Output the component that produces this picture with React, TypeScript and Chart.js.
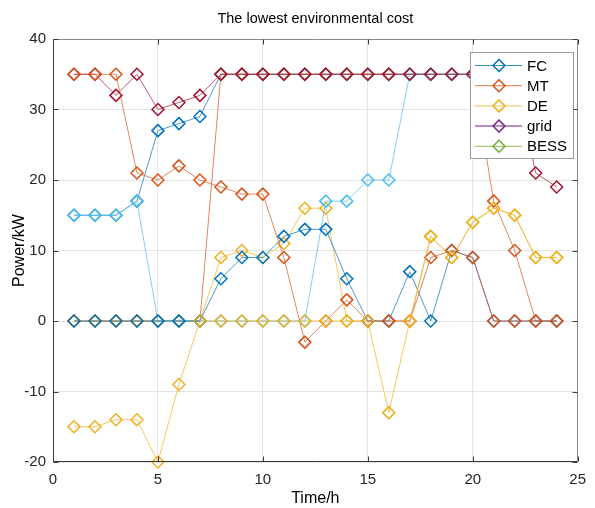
import React, { useEffect, useRef } from 'react';
import { Chart, registerables } from 'chart.js';

Chart.register(...registerables);

// ---- data ----
const hours = [1, 2, 3, 4, 5, 6, 7, 8, 9, 10, 11, 12, 13, 14, 15, 16, 17, 18, 19, 20, 21, 22, 23, 24];

const FC = [15, 15, 15, 17, 27, 28, 29, 35, 35, 35, 35, 35, 35, 35, 35, 35, 35, 35, 35, 35, 35, 35, 35, 35];
const MT = [0, 0, 0, 0, 0, 0, 0, 35, 35, 35, 35, 35, 35, 35, 35, 35, 35, 35, 35, 35, 17, 10, 0, 0];
const DE = [0, 0, 0, 0, 0, 0, 0, 9, 10, 9, 11, 16, 16, 0, 0, 0, 0, 12, 9, 14, 16, 15, 9, 9];
const grid: number[] = [];
const BESS: number[] = [];
const FC2 = [15, 15, 15, 17, 0, 0, 0, 0, 0, 0, 0, 0, 17, 17, 20, 20, 35, 35, 35, 35, 35, 35, 35, 35];
const MT2 = [35, 35, 32, 35, 30, 31, 32, 35, 35, 35, 35, 35, 35, 35, 35, 35, 35, 35, 35, 35, 35, 35, 21, 19];
const DE2 = [0, 0, 0, 0, 0, 0, 0, 6, 9, 9, 12, 13, 13, 6, 0, 0, 7, 0, 10, 9, 0, 0, 0, 0];
const grid2 = [35, 35, 35, 21, 20, 22, 20, 19, 18, 18, 9, -3, 0, 3, 0, 0, 0, 9, 10, 9, 0, 0, 0, 0];
const BESS2 = [-15, -15, -14, -14, -20, -9, 0, 0, 0, 0, 0, 0, 0, 0, 0, -13, 0, 12, 9, 14, 16, 15, 9, 9];

const seriesNames = ['FC', 'MT', 'DE', 'grid', 'BESS', 'FC2', 'MT2', 'DE2', 'grid2', 'BESS2'];
const seriesValues = [FC, MT, DE, grid, BESS, FC2, MT2, DE2, grid2, BESS2];
const seriesColors = ['#0072BD', '#D95319', '#EDB120', '#7E2F8E', '#77AC30', '#4DBEEE', '#A2142F', '#0072BD', '#D95319', '#EDB120'];
const legendCount = 5;

const xTicks = [0, 5, 10, 15, 20, 25];
const yTicks = [-20, -10, 0, 10, 20, 30, 40];

const titleText = 'The lowest environmental cost';
const xTitle = 'Time/h';
const yTitle = 'Power/kW';

function hexA(hex: string, a: number) {
  const r = parseInt(hex.slice(1, 3), 16);
  const g = parseInt(hex.slice(3, 5), 16);
  const b = parseInt(hex.slice(5, 7), 16);
  return `rgba(${r},${g},${b},${a})`;
}

function drawDiamond(ctx: CanvasRenderingContext2D, x: number, y: number, r: number) {
  ctx.beginPath();
  ctx.moveTo(x, y - r);
  ctx.lineTo(x + r, y);
  ctx.lineTo(x, y + r);
  ctx.lineTo(x - r, y);
  ctx.closePath();
  ctx.stroke();
}

const decorPlugin = {
  id: 'decor',
  afterDraw(chart: any) {
    const { ctx, chartArea: a, scales } = chart;
    const xs = scales.x;
    const ys = scales.y;
    ctx.save();

    // box
    ctx.lineWidth = 1;
    ctx.strokeStyle = '#3a3a3a';
    const L = Math.round(a.left) + 0.5;
    const R = Math.round(a.right) - 0.5;
    const T = Math.round(a.top) + 0.5;
    const B = Math.round(a.bottom) - 0.5;
    ctx.beginPath();
    ctx.moveTo(L, T);
    ctx.lineTo(L, B);
    ctx.lineTo(R, B);
    ctx.stroke();
    ctx.strokeStyle = '#8a8a8a';
    ctx.beginPath();
    ctx.moveTo(L, T);
    ctx.lineTo(R, T);
    ctx.lineTo(R, B);
    ctx.stroke();

    // inward ticks
    ctx.strokeStyle = '#3a3a3a';
    const tl = 5;
    ctx.beginPath();
    xTicks.forEach((v) => {
      const px = Math.round(xs.getPixelForValue(v)) + 0.5;
      ctx.moveTo(px, B);
      ctx.lineTo(px, B - tl);
      ctx.moveTo(px, T);
      ctx.lineTo(px, T + tl);
    });
    yTicks.forEach((v) => {
      const py = Math.round(ys.getPixelForValue(v)) + 0.5;
      ctx.moveTo(L, py);
      ctx.lineTo(L + tl, py);
      ctx.moveTo(R, py);
      ctx.lineTo(R - tl, py);
    });
    ctx.stroke();

    // title
    ctx.fillStyle = '#000';
    ctx.font = '14.5px "Liberation Sans", Arial, sans-serif';
    ctx.textAlign = 'center';
    ctx.textBaseline = 'middle';
    ctx.fillText(titleText, (a.left + a.right) / 2, 19);

    // axis titles
    ctx.font = '16px "Liberation Sans", Arial, sans-serif';
    ctx.fillText(xTitle, (a.left + a.right) / 2, 499);
    ctx.save();
    ctx.translate(20, (a.top + a.bottom) / 2);
    ctx.rotate(-Math.PI / 2);
    ctx.fillText(yTitle, 0, 0);
    ctx.restore();

    // legend
    const lx = 470.5, ly = 52.5, lw = 103, lh = 106;
    ctx.fillStyle = '#fff';
    ctx.fillRect(lx, ly, lw, lh);
    ctx.strokeStyle = '#9a9a9a';
    ctx.lineWidth = 1;
    ctx.strokeRect(lx, ly, lw, lh);
    ctx.font = '15px "Liberation Sans", Arial, sans-serif';
    ctx.textAlign = 'left';
    ctx.textBaseline = 'middle';
    for (let i = 0; i < legendCount; i++) {
      const y = 65.5 + i * 20.2;
      const c = seriesColors[i];
      ctx.strokeStyle = hexA(c, i === 3 ? 0.55 : 0.8);
      ctx.lineWidth = i === 3 ? 2 : 1;
      ctx.beginPath();
      ctx.moveTo(475, y);
      ctx.lineTo(522, y);
      ctx.stroke();
      ctx.strokeStyle = c;
      ctx.lineWidth = 1.5;
      drawDiamond(ctx, 499, y, 6);
      ctx.fillStyle = '#000';
      ctx.fillText(seriesNames[i], 527, y + 1);
    }
    ctx.restore();
  },
};

export default function App() {
  const ref = useRef<HTMLCanvasElement | null>(null);

  useEffect(() => {
    if (!ref.current) return;
    const datasets = seriesValues.map((vals, i) => ({
      label: seriesNames[i],
      data: vals.map((v, k) => ({ x: hours[k], y: v })),
      borderColor: hexA(seriesColors[i], 0.7),
      borderWidth: 1,
      pointStyle: 'rectRot',
      pointRadius: 6,
      pointHoverRadius: 6,
      pointBorderWidth: 1.5,
      pointBorderColor: seriesColors[i],
      pointBackgroundColor: 'rgba(0,0,0,0)',
      tension: 0,
      clip: false,
      order: -i,
    }));

    const chart = new Chart(ref.current, {
      type: 'line',
      data: { datasets } as any,
      options: {
        animation: false,
        responsive: false,
        maintainAspectRatio: false,
        layout: { autoPadding: false, padding: { top: 39, right: 8, left: 0, bottom: 0 } } as any,
        plugins: { legend: { display: false }, title: { display: false }, tooltip: { enabled: false } },
        scales: {
          x: {
            type: 'linear',
            min: 0,
            max: 25,
            afterFit: (s: any) => { s.height = 46; },
            afterBuildTicks: (s: any) => { s.ticks = xTicks.map((v) => ({ value: v })); },
            ticks: { color: '#262626', font: { family: '"Liberation Sans", Arial, sans-serif', size: 15 }, padding: 9, maxRotation: 0 },
            grid: { color: '#e3e3e3', drawTicks: false, lineWidth: 1 },
            border: { display: false },
          },
          y: {
            type: 'linear',
            min: -20,
            max: 40,
            afterFit: (s: any) => { s.width = 53; },
            afterBuildTicks: (s: any) => { s.ticks = yTicks.map((v) => ({ value: v })); },
            ticks: { color: '#262626', font: { family: '"Liberation Sans", Arial, sans-serif', size: 15 }, padding: 7 },
            grid: { color: '#e3e3e3', drawTicks: false, lineWidth: 1 },
            border: { display: false },
          },
        },
      } as any,
      plugins: [decorPlugin],
    });
    return () => chart.destroy();
  }, []);

  return (
    <div style={{ position: 'fixed', left: 0, top: 0, width: 595, height: 508, background: '#fff' }}>
      <canvas ref={ref} width={595} height={508} style={{ width: 595, height: 508 }} />
    </div>
  );
}
